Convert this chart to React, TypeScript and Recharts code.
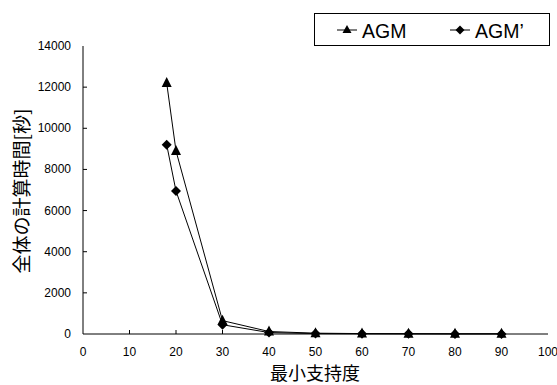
import {
  LineChart,
  Line,
  XAxis,
  YAxis,
  Legend,
  Label,
} from 'recharts'

const supports = [18, 20, 30, 40, 50, 60, 70, 80, 90]
const agm = [12200, 8900, 650, 120, 40, 20, 15, 10, 10]
const agmPrime = [9200, 6950, 450, 70, 20, 10, 8, 5, 5]
const xTicks = [0, 10, 20, 30, 40, 50, 60, 70, 80, 90, 100]
const yTicks = [0, 2000, 4000, 6000, 8000, 10000, 12000, 14000]

const data = supports.map((s, i) => ({ support: s, agm: agm[i], agmPrime: agmPrime[i] }))

const tickFont = { fontFamily: '"Liberation Sans", Arial, sans-serif', fontSize: 12, fill: '#000' }
const titleFont = '"Noto Sans CJK JP", sans-serif'

const Triangle = (props: any) => {
  const { cx, cy } = props
  if (cx == null || cy == null) return null
  return <polygon points={`${cx},${cy - 6} ${cx - 5},${cy + 4} ${cx + 5},${cy + 4}`} fill="#000" />
}

const Diamond = (props: any) => {
  const { cx, cy } = props
  if (cx == null || cy == null) return null
  return <polygon points={`${cx},${cy - 5} ${cx + 5},${cy} ${cx},${cy + 5} ${cx - 5},${cy}`} fill="#000" />
}

// ticks in this chart point into the plot
const XTick = (props: any) => {
  const { x, y, payload } = props
  return (
    <g>
      {payload.value !== 0 && payload.value !== 100 && (
        <line x1={x} y1={y} x2={x} y2={y - 4} stroke="#000" />
      )}
      <text x={x} y={y + 22} textAnchor="middle" {...tickFont}>
        {payload.value}
      </text>
    </g>
  )
}

const YTick = (props: any) => {
  const { x, y, payload } = props
  return (
    <g>
      {payload.value !== 0 && payload.value !== 14000 && (
        <line x1={x} y1={y} x2={x + 4} y2={y} stroke="#000" />
      )}
      <text x={x - 12} y={y + 4} textAnchor="end" {...tickFont}>
        {payload.value}
      </text>
    </g>
  )
}

const legendFont = '"Liberation Sans", Arial, sans-serif'

const LegendBox = () => (
  <svg width={236} height={33} style={{ display: 'block' }}>
    <rect x={0.5} y={0.5} width={235} height={32} fill="#fff" stroke="#000" />
    <line x1={23} y1={17} x2={43} y2={17} stroke="#000" />
    <polygon points="33,12 28.5,20 37.5,20" fill="#000" />
    <text x={48} y={25} fontFamily={legendFont} fontSize={19.5} fill="#000">
      AGM
    </text>
    <line x1={136} y1={17} x2={156} y2={17} stroke="#000" />
    <polygon points="146,12.5 150.5,17 146,21.5 141.5,17" fill="#000" />
    <text x={161} y={25} fontFamily={legendFont} fontSize={19.5} fill="#000">
      AGM’
    </text>
  </svg>
)

export default function App() {
  return (
    <div style={{ position: 'absolute', left: 0, top: 0, background: '#fff' }}>
      <LineChart
        width={557}
        height={385}
        data={data}
        margin={{ top: 46, right: 9, bottom: 0, left: 0 }}
      >
        <XAxis
          dataKey="support"
          type="number"
          domain={[0, 100]}
          ticks={xTicks}
          interval={0}
          height={51}
          tickSize={0}
          tickMargin={0}
          tickLine={false}
          tick={<XTick />}
          axisLine={{ stroke: '#000' }}
        >
          <Label
            content={() => (
              <text x={315} y={380} textAnchor="middle" fontFamily={titleFont} fontSize={18} fill="#000">
                最小支持度
              </text>
            )}
          />
        </XAxis>
        <XAxis
          xAxisId="top"
          dataKey="support"
          type="number"
          domain={[0, 100]}
          orientation="top"
          height={0}
          tick={false}
          tickLine={false}
          axisLine={{ stroke: '#000' }}
        />
        <YAxis
          type="number"
          domain={[0, 14000]}
          ticks={yTicks}
          interval={0}
          width={83}
          tickSize={0}
          tickMargin={0}
          tickLine={false}
          tick={<YTick />}
          axisLine={{ stroke: '#000' }}
        >
          <Label
            content={() => (
              <text
                x={29}
                y={191}
                transform="rotate(-90 29 191)"
                textAnchor="middle"
                fontFamily={titleFont}
                fontSize={19}
                fill="#000"
              >
                全体の計算時間[秒]
              </text>
            )}
          />
        </YAxis>
        <YAxis
          yAxisId="right"
          orientation="right"
          width={0}
          domain={[0, 14000]}
          tick={false}
          tickLine={false}
          axisLine={{ stroke: '#000' }}
        />
        <Legend
          layout="horizontal"
          verticalAlign="middle"
          align="center"
          content={() => <LegendBox />}
          wrapperStyle={{ left: 314, top: 13, width: 236, height: 33 }}
        />
        <Line
          dataKey="agm"
          name="AGM"
          type="linear"
          stroke="#000"
          strokeWidth={1}
          dot={<Triangle />}
          activeDot={false}
          isAnimationActive={false}
        />
        <Line
          dataKey="agmPrime"
          name="AGM’"
          type="linear"
          stroke="#000"
          strokeWidth={1}
          dot={<Diamond />}
          activeDot={false}
          isAnimationActive={false}
        />
      </LineChart>
    </div>
  )
}
